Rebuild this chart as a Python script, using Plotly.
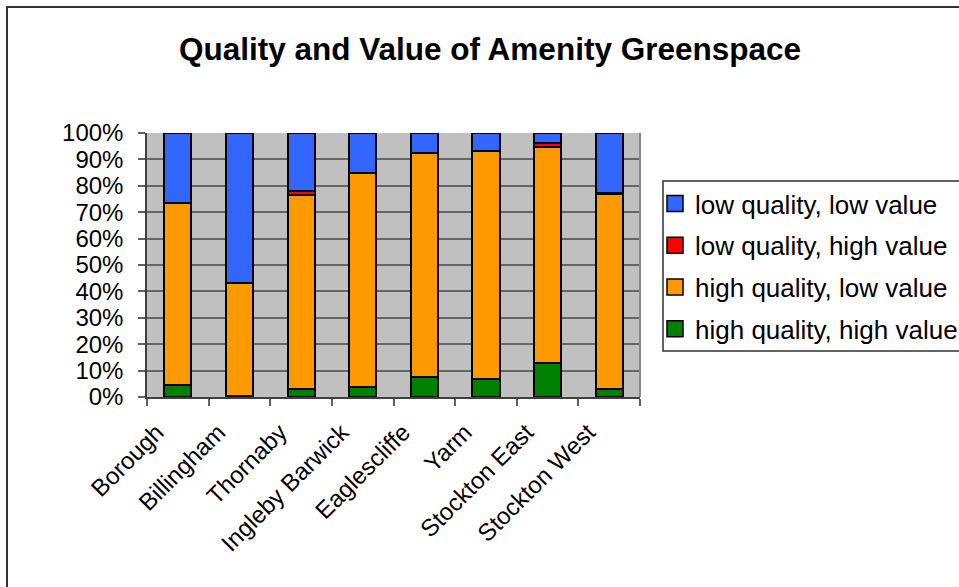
import plotly.graph_objects as go

# Share of amenity greenspace sites (%) in each quality/value class, by area
areas = ["Borough", "Billingham", "Thornaby", "Ingleby Barwick",
         "Eaglescliffe", "Yarm", "Stockton East", "Stockton West"]
high_q_high_v = [4.5, 0.4, 3.1, 3.9, 7.6, 6.9, 13.0, 3.1]
high_q_low_v = [69.1, 42.9, 73.4, 81.1, 84.9, 86.4, 81.7, 73.8]
low_q_high_v = [0.0, 0.0, 1.6, 0.0, 0.0, 0.0, 1.6, 0.5]
low_q_low_v = [26.4, 56.7, 21.9, 15.0, 7.5, 6.7, 3.7, 22.6]

# stacked bottom to top; legend rank puts the top segment first
series = [
    ("high quality, high value", high_q_high_v, "#008000", 4),
    ("high quality, low value", high_q_low_v, "#FF9900", 3),
    ("low quality, high value", low_q_high_v, "#FF0000", 2),
    ("low quality, low value", low_q_low_v, "#3366FF", 1),
]

FONT = "Liberation Sans, Arial, sans-serif"

# plot-area geometry in pixels
W, H = 959, 587
L, R, T, B = 147, 319, 133, 190
PW, PH = W - L - R, H - T - B


def px_x(px):
    return (px - L) / PW


def px_y(py):
    return (H - B - py) / PH


fig = go.Figure()
for name, vals, color, rank in series:
    fig.add_trace(go.Bar(
        x=areas, y=vals, name=name, legendgroup=name, legendrank=rank,
        showlegend=False,
        marker=dict(color=color, line=dict(color="black", width=2)),
    ))
    # legend entry with a larger square swatch
    fig.add_trace(go.Scatter(
        x=[None], y=[None], mode="markers", name=name, legendgroup=name,
        legendrank=rank,
        marker=dict(symbol="square", size=16, color=color,
                    line=dict(color="black", width=1.5)),
    ))

fig.update_layout(
    width=W, height=H,
    margin=dict(l=L, r=R, t=T, b=B, autoexpand=False),
    barmode="stack", bargap=0.56,
    paper_bgcolor="white", plot_bgcolor="#C0C0C0",
    font=dict(family=FONT, size=24, color="black"),
    title=dict(text="<b>Quality and Value of Amenity Greenspace</b>",
               font=dict(family=FONT, size=31.5, color="black"),
               x=490 / W, xanchor="center", xref="container",
               y=1 - 49 / H, yanchor="middle", yref="container"),
    legend=dict(
        x=px_x(655), y=px_y(180), xanchor="left", yanchor="top",
        xref="paper", yref="paper",
        traceorder="grouped", tracegroupgap=5,
        font=dict(family=FONT, size=26, color="black"),
        bgcolor="rgba(0,0,0,0)", borderwidth=0,
    ),
    showlegend=True,
)

fig.update_xaxes(
    type="category", tickson="boundaries", ticks="outside", ticklen=7,
    tickcolor="#606060", tickwidth=1.5, tickangle=-45,
    ticklabelstandoff=10, ticklabelshift=-21,
    showline=True, linecolor="#404040", linewidth=1.5,
    showgrid=False, tickfont=dict(family=FONT, size=24, color="black"),
)
fig.update_yaxes(
    range=[0, 100], dtick=10, ticksuffix="%", ticks="outside", ticklen=7,
    tickcolor="#606060", tickwidth=1.5, ticklabelstandoff=10,
    showline=True, linecolor="#404040", linewidth=1.5,
    showgrid=True, gridcolor="#666666", gridwidth=1.5, zeroline=False,
    tickfont=dict(family=FONT, size=24, color="black"),
)

# right edge of the plot area
fig.add_shape(type="line", xref="paper", yref="paper",
              x0=1, x1=1, y0=0, y1=1,
              line=dict(color="#888888", width=2))
# legend frame
fig.add_shape(type="rect", xref="paper", yref="paper",
              x0=px_x(663), x1=px_x(1000), y0=px_y(351), y1=px_y(181),
              line=dict(color="#303030", width=1.5))
# chart frame
fig.add_shape(type="rect", xref="paper", yref="paper",
              x0=px_x(7), x1=px_x(1000), y0=px_y(640), y1=px_y(7),
              line=dict(color="#333333", width=2), layer="below")

fig.write_html("out.html")
